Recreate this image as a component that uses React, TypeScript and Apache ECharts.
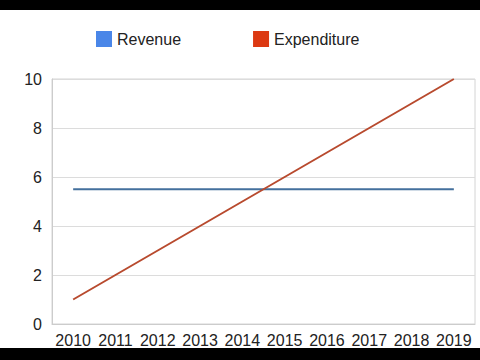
import React, { useEffect, useRef } from "react";
import * as echarts from "echarts";

const years = ["2010", "2011", "2012", "2013", "2014", "2015", "2016", "2017", "2018", "2019"];
const revenue = [5.5, 5.5, 5.5, 5.5, 5.5, 5.5, 5.5, 5.5, 5.5, 5.5];
const expenditure = [1, 2, 3, 4, 5, 6, 7, 8, 9, 10];

export default function App() {
  const ref = useRef<HTMLDivElement>(null);
  useEffect(() => {
    if (!ref.current) return;
    document.body.style.margin = "0";
    document.body.style.background = "#ffffff";
    const chart = echarts.init(ref.current, undefined, { renderer: "svg" });
    const font = "Liberation Sans";
    chart.setOption({
      animation: false,
      backgroundColor: "#ffffff",
      textStyle: { fontFamily: font },
      graphic: [
        { type: "rect", left: 0, top: 0, shape: { width: 480, height: 10 }, style: { fill: "#000" }, z: 100 },
        { type: "rect", left: 0, top: 348, shape: { width: 480, height: 12 }, style: { fill: "#000" }, z: 100 },
      ],
      legend: {
        left: 96,
        top: 31,
        padding: 0,
        icon: "rect",
        itemWidth: 16,
        itemHeight: 16,
        itemGap: 72,
        textStyle: { fontFamily: font, fontSize: 16, color: "#222" },
        data: [
          { name: "Revenue", itemStyle: { color: "#4a86e8" } },
          { name: "Expenditure", itemStyle: { color: "#dc3912" } },
        ],
      },
      grid: {
        left: 52,
        right: 5,
        top: 79,
        bottom: 36,
        show: true,
        borderColor: "#d4d4d4",
        borderWidth: 1,
      },
      xAxis: {
        type: "category",
        data: years,
        boundaryGap: true,
        axisLine: { show: true, lineStyle: { color: "#cccccc" } },
        axisTick: { show: false },
        axisLabel: { fontFamily: font, fontSize: 16, color: "#222", margin: 8, interval: 0 },
      },
      yAxis: {
        type: "value",
        min: 0,
        max: 10,
        interval: 2,
        axisLine: { show: true, lineStyle: { color: "#cccccc" } },
        axisTick: { show: false },
        splitLine: { lineStyle: { color: "#dcdcdc" } },
        axisLabel: { fontFamily: font, fontSize: 16, color: "#222", margin: 10 },
      },
      series: [
        {
          name: "Revenue",
          type: "line",
          data: revenue,
          symbol: "none",
          lineStyle: { color: "#44709d", width: 2 },
          itemStyle: { color: "#44709d" },
        },
        {
          name: "Expenditure",
          type: "line",
          data: expenditure,
          symbol: "none",
          lineStyle: { color: "#b84a2e", width: 2 },
          itemStyle: { color: "#b84a2e" },
        },
      ],
    });
    return () => chart.dispose();
  }, []);
  return (
    <div
      ref={ref}
      style={{ position: "fixed", left: 0, top: 0, width: 480, height: 360 }}
    />
  );
}
